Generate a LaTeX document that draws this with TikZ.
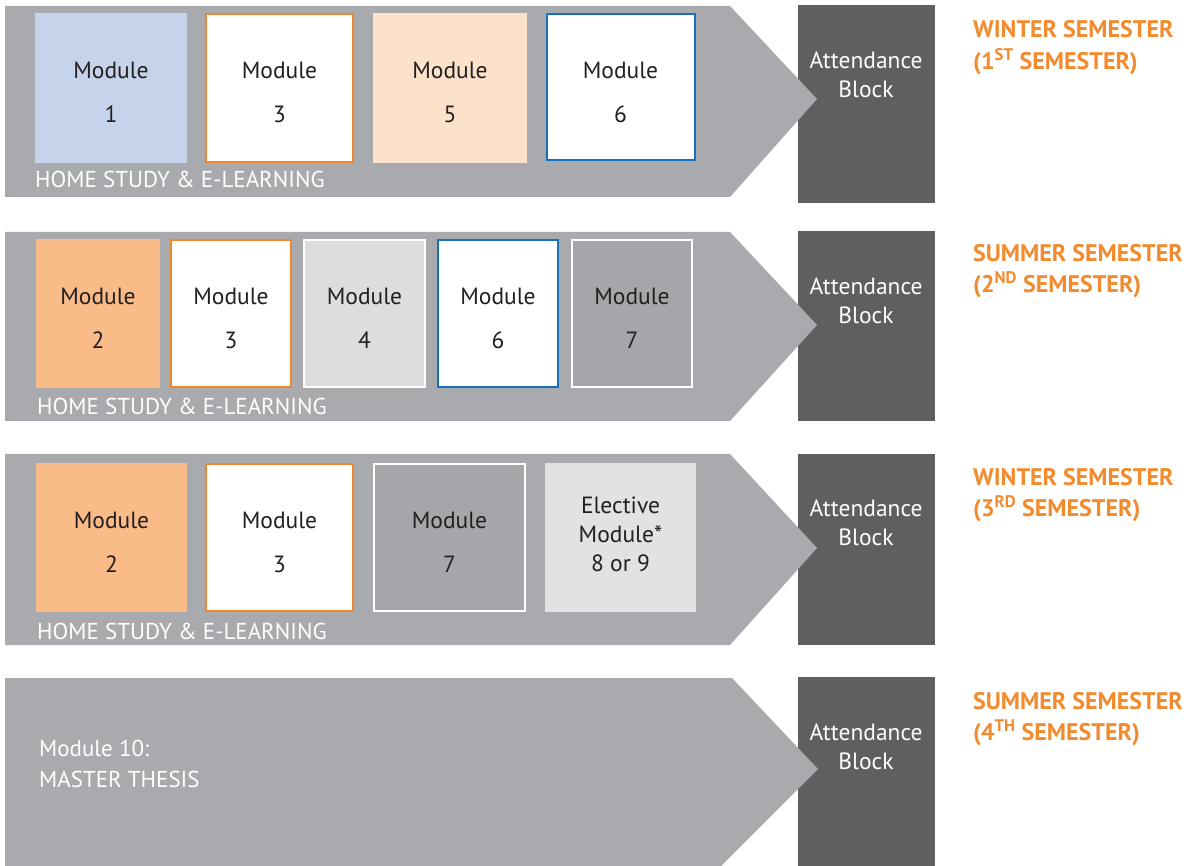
\documentclass[tikz,border=0pt]{standalone}
\usepackage{fontspec}
\setmainfont{PT Sans}
\definecolor{arrowgray}{HTML}{A9AAAD}
\definecolor{blockdark}{HTML}{5F5F62}
\definecolor{modblue}{HTML}{C6D4EB}
\definecolor{modorange}{HTML}{F0852A}
\definecolor{semorange}{HTML}{F28A2E}
\definecolor{modpeach}{HTML}{FDE2CB}
\definecolor{modsalmon}{HTML}{F9BB88}
\definecolor{modlight}{HTML}{DCDDDF}
\definecolor{modgray}{HTML}{A5A6A9}
\definecolor{modelective}{HTML}{E1E2E4}
\definecolor{borderblue}{HTML}{1570BD}
\definecolor{textdark}{HTML}{231F20}
\begin{document}
\begin{tikzpicture}[x=1pt,y=-1pt,
  modbox/.style={rectangle, inner sep=0pt},
  orangebox/.style={modbox, fill=white, draw=modorange, line width=2pt},
  bluebox/.style={modbox, fill=white, draw=borderblue, line width=2pt},
  lightbox/.style={modbox, fill=modlight, draw=white, line width=2pt},
  graybox/.style={modbox, fill=modgray, draw=white, line width=2pt},
  modtext/.style={align=center, text=textdark, inner sep=0pt,
    font=\fontsize{23.5}{44}\selectfont},
  attblock/.style={rectangle, fill=blockdark, inner sep=0pt, minimum width=137},
  atttext/.style={align=center, text=white, inner sep=0pt, font=\fontsize{23.5}{29}\selectfont},
  hometext/.style={anchor=west, text=white, inner sep=0pt, font=\fontsize{23}{25}\selectfont},
  semtext/.style={anchor=west, align=left, text=semorange, inner sep=0pt,
    font=\fontsize{24}{31.5}\selectfont\bfseries}
]
\useasboundingbox (0,0) rectangle (1195,866);

% ---------- Row 1 ----------
\node[attblock, minimum height=198] (blk1) at (866.5,104) {};
\fill[arrowgray] (5,6) -- (730,6) -- (817,99) -- (730,197) -- (5,197) -- cycle;
\node[atttext] (att1) at (866,74.5) {Attendance\\Block};
\node[modbox, fill=modblue, minimum width=152, minimum height=150] (m11) at (111,88) {};
\node[orangebox, minimum width=147, minimum height=148] (m13) at (279.5,88) {};
\node[modbox, fill=modpeach, minimum width=154, minimum height=150] (m15) at (450,88) {};
\node[bluebox, minimum width=148, minimum height=146] (m16) at (620.5,87.5) {};
\node[modtext] (t11) at ([yshift=-4.5pt]m11.center) {Module\\1};
\node[modtext] (t13) at ([yshift=-4.5pt]m13.center) {Module\\3};
\node[modtext] (t15) at ([yshift=-4.5pt]m15.center) {Module\\5};
\node[modtext] (t16) at ([yshift=-4.5pt]m16.center) {Module\\6};
\node[hometext] (h1) at (35,179) {HOME STUDY \& E-LEARNING};
\node[semtext] (s1) at (973,47.5) {WINTER SEMESTER\\(1\textsuperscript{ST} SEMESTER)};

% ---------- Row 2 ----------
\node[attblock, minimum height=190] (blk2) at (866.5,326) {};
\fill[arrowgray] (5,232) -- (730,232) -- (817,325) -- (730,421) -- (5,421) -- cycle;
\node[atttext] (att2) at (866,300.5) {Attendance\\Block};
\node[modbox, fill=modsalmon, minimum width=124, minimum height=149] (m22) at (98,313.5) {};
\node[orangebox, minimum width=120, minimum height=147] (m23) at (231,313.5) {};
\node[lightbox, minimum width=121, minimum height=147] (m24) at (364.5,313.5) {};
\node[bluebox, minimum width=120, minimum height=147] (m26) at (498,313.5) {};
\node[graybox, minimum width=120, minimum height=147] (m27) at (632,313.5) {};
\node[modtext] (t22) at ([yshift=-4.5pt]m22.center) {Module\\2};
\node[modtext] (t23) at ([yshift=-4.5pt]m23.center) {Module\\3};
\node[modtext] (t24) at ([yshift=-4.5pt]m24.center) {Module\\4};
\node[modtext] (t26) at ([yshift=-4.5pt]m26.center) {Module\\6};
\node[modtext] (t27) at ([yshift=-4.5pt]m27.center) {Module\\7};
\node[hometext] (h2) at (37,406) {HOME STUDY \& E-LEARNING};
\node[semtext] (s2) at (973,271) {SUMMER SEMESTER\\(2\textsuperscript{ND} SEMESTER)};

% ---------- Row 3 ----------
\node[attblock, minimum height=191] (blk3) at (866.5,549.5) {};
\fill[arrowgray] (5,454) -- (730,454) -- (817,548) -- (730,645) -- (5,645) -- cycle;
\node[atttext] (att3) at (866,522.5) {Attendance\\Block};
\node[modbox, fill=modsalmon, minimum width=151, minimum height=149] (m32) at (111.5,537.5) {};
\node[orangebox, minimum width=147, minimum height=147] (m33) at (279.5,537.5) {};
\node[graybox, minimum width=151, minimum height=147] (m37) at (449.5,537.5) {};
\node[modbox, fill=modelective, minimum width=151, minimum height=149] (m3e) at (620.5,537.5) {};
\node[modtext] (t32) at ([yshift=-4.5pt]m32.center) {Module\\2};
\node[modtext] (t33) at ([yshift=-4.5pt]m33.center) {Module\\3};
\node[modtext] (t37) at ([yshift=-4.5pt]m37.center) {Module\\7};
\node[modtext, font=\fontsize{23.5}{29}\selectfont] (t3e) at ([yshift=3pt]m3e.center) {Elective\\Module*\\8 or 9};
\node[hometext] (h3) at (37,631) {HOME STUDY \& E-LEARNING};
\node[semtext] (s3) at (973,495) {WINTER SEMESTER\\(3\textsuperscript{RD} SEMESTER)};

% ---------- Row 4 ----------
\node[attblock, minimum height=189] (blk4) at (866.5,771.5) {};
\fill[arrowgray] (5,678) -- (732,678) -- (818,769) -- (721,866) -- (5,866) -- cycle;
\node[atttext] (att4) at (866,746.5) {Attendance\\Block};
\node[anchor=west, align=left, text=white, inner sep=0pt,
  font=\fontsize{23}{31}\selectfont] (m10) at (39,763.5) {Module 10:\\MASTER THESIS};
\node[semtext] (s4) at (973,719) {SUMMER SEMESTER\\(4\textsuperscript{TH} SEMESTER)};
\end{tikzpicture}
\end{document}
